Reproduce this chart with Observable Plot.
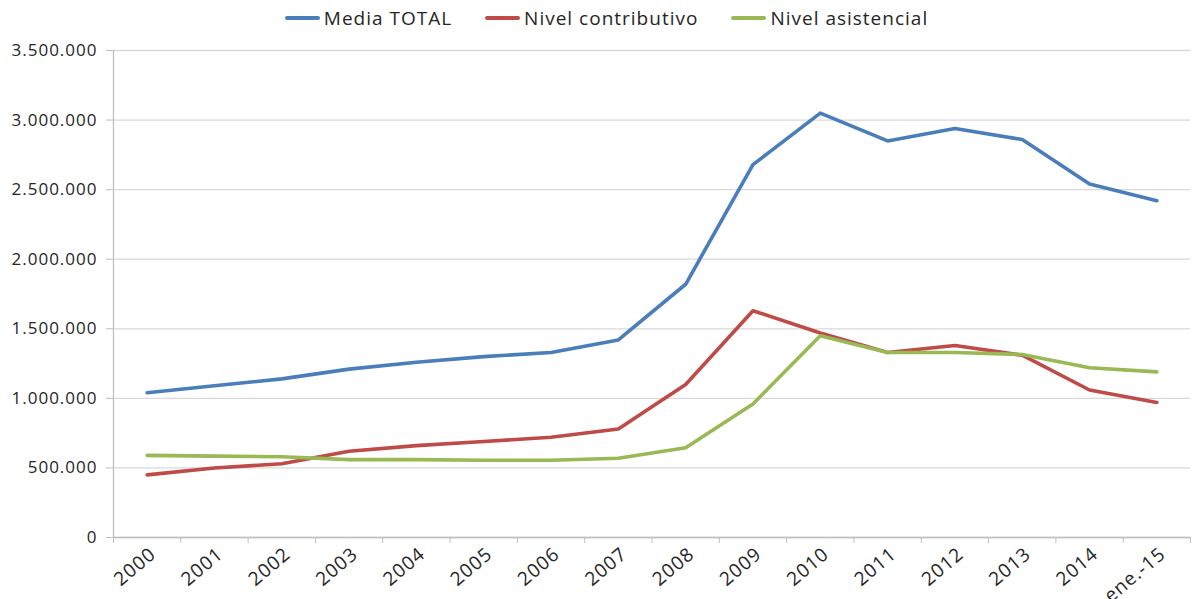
<!DOCTYPE html>
<html><head><meta charset="utf-8">
<script src="https://cdn.jsdelivr.net/npm/d3@7"></script>
<script src="https://cdn.jsdelivr.net/npm/@observablehq/plot@0.6"></script>
<style>
body{margin:0;background:#fff;font-family:"Open Sans",sans-serif;}
#legend{height:36px;display:flex;justify-content:center;align-items:center;gap:33px;padding-left:18px;font-size:19px;letter-spacing:1px;color:#262626;}
#legend .it{display:flex;align-items:center;gap:4px;}
#legend .sw{width:35px;height:4px;border-radius:2px;}
svg text{letter-spacing:1px;}
</style></head>
<body>
<div id="legend"></div>
<div id="chart"></div>
<script>
const categories = ["2000","2001","2002","2003","2004","2005","2006","2007","2008","2009","2010","2011","2012","2013","2014","ene.-15"];
const mediaTotal = [1040000,1090000,1140000,1210000,1260000,1300000,1330000,1420000,1820000,2680000,3050000,2850000,2940000,2860000,2540000,2420000];
const nivelContributivo = [450000,500000,530000,620000,660000,690000,720000,780000,1100000,1630000,1470000,1330000,1380000,1310000,1060000,970000];
const nivelAsistencial = [590000,585000,580000,560000,560000,555000,555000,570000,645000,960000,1450000,1330000,1330000,1315000,1220000,1190000];
const seriesNames = ["Media TOTAL","Nivel contributivo","Nivel asistencial"];
const seriesColors = ["#4a7ebb","#be4b48","#98b954"];
const yTicks = [0,500000,1000000,1500000,2000000,2500000,3000000,3500000];

const fmt = d3.formatLocale({decimal:",",thousands:".",grouping:[3],currency:["",""]}).format(",");
const allSeries = [mediaTotal, nivelContributivo, nivelAsistencial];
const data = [];
allSeries.forEach((vals, s) => vals.forEach((v, i) => data.push({i, cat: categories[i], value: v, serie: seriesNames[s]})));
const idx = categories.map((_, i) => i);
const bounds = d3.range(categories.length + 1).map(i => i - 0.5);

const leg = document.getElementById("legend");
seriesNames.forEach((n, k) => {
  const it = document.createElement("div"); it.className = "it";
  it.innerHTML = `<span class="sw" style="background:${seriesColors[k]}"></span><span>${n}</span>`;
  leg.appendChild(it);
});

const chart = Plot.plot({
  width: 1195, height: 563,
  marginTop: 14, marginBottom: 62, marginLeft: 113, marginRight: 5,
  style: {fontFamily: "Open Sans, sans-serif", fontSize: "17px", color: "#262626", background: "#fff"},
  x: {type: "linear", domain: [-0.5, categories.length - 0.5]},
  y: {domain: [0, 3500000]},
  color: {domain: seriesNames, range: seriesColors},
  marks: [
    Plot.gridY(yTicks, {stroke: "#d9d9d9", strokeOpacity: 1, strokeWidth: 1.3}),
    Plot.ruleX([-0.5], {stroke: "#bfbfbf", strokeWidth: 1.3}),
    Plot.ruleY([0], {stroke: "#bfbfbf", strokeWidth: 1.3}),
    Plot.axisY({ticks: yTicks, tickFormat: fmt, tickSize: 7, tickPadding: 9, stroke: "#bfbfbf", fill: "#262626", fontSize: 17, label: null}),
    Plot.axisX({ticks: bounds, tickSize: 6, tickFormat: () => "", stroke: "#bfbfbf", label: null}),
    Plot.axisX({ticks: idx, tickSize: 0, tickPadding: 14, tickRotate: -40, tickFormat: i => categories[i], dx: 6, fill: "#262626", fontSize: 19, label: null}),
    Plot.line(data, {x: "i", y: "value", z: "serie", stroke: "serie", strokeWidth: 3.6, strokeLinejoin: "round"})
  ]
});
document.getElementById("chart").appendChild(chart);
</script>
</body></html>
